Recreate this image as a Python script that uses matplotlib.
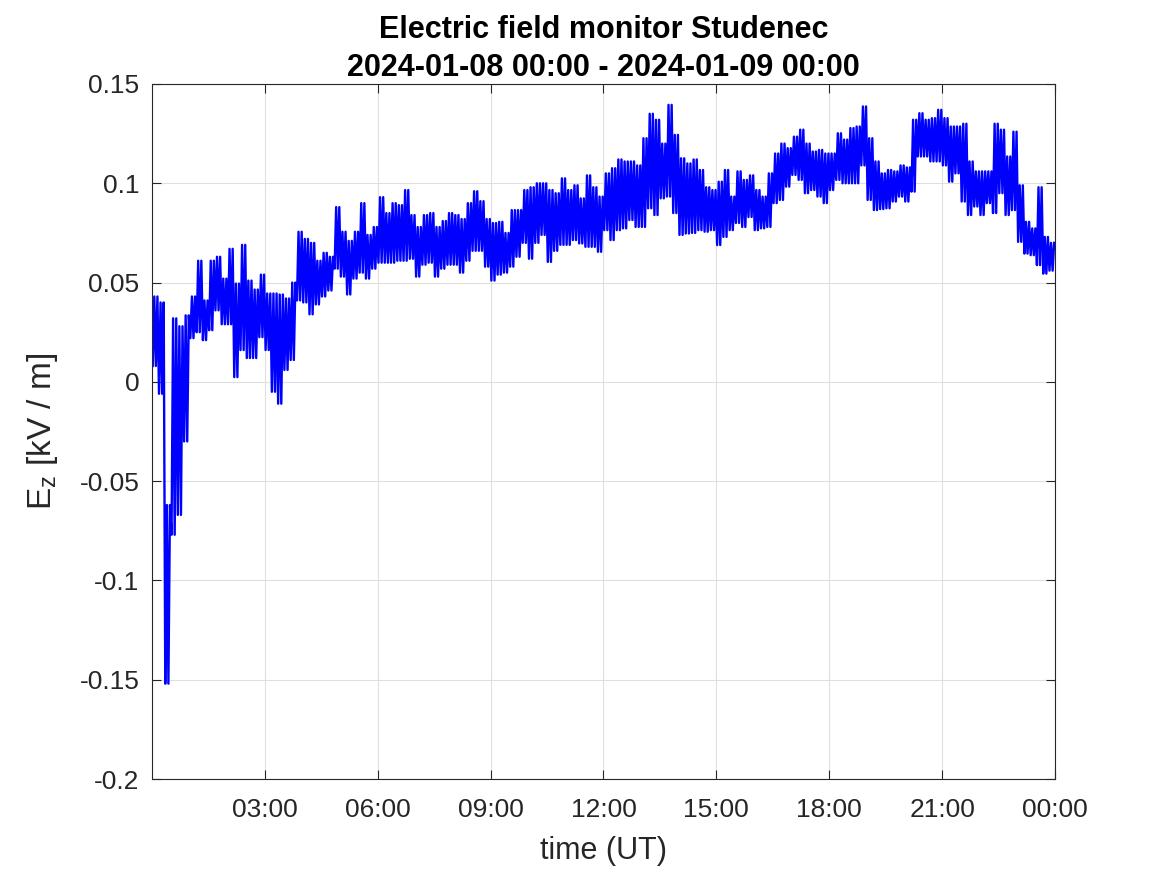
import numpy as np
import pandas as pd
import matplotlib
matplotlib.use('Agg')
import matplotlib.pyplot as plt
import matplotlib.dates as mdates

plt.rcParams['font.family'] = ['Liberation Sans', 'DejaVu Sans']

# Ez [kV/m], min and max of each 10-minute bin
ez_lo = [0.008, -0.006, -0.152, -0.077, -0.067, -0.030, 0.022, 0.025, 0.021, 0.026,
         0.036, 0.029, 0.029, 0.0024, 0.016, 0.012, 0.012, 0.0225, 0.016, -0.005,
         -0.011, 0.006, 0.011, 0.041, 0.040, 0.034, 0.039, 0.043, 0.046, 0.057,
         0.053, 0.044, 0.052, 0.055, 0.052, 0.057, 0.060, 0.060, 0.060, 0.061,
         0.061, 0.062, 0.053, 0.059, 0.060, 0.053, 0.057, 0.059, 0.059, 0.055,
         0.061, 0.066, 0.066, 0.058, 0.051, 0.054, 0.055, 0.058, 0.063, 0.070,
         0.062, 0.070, 0.074, 0.0604, 0.066, 0.069, 0.069, 0.0714, 0.0697, 0.068,
         0.068, 0.0655, 0.0764, 0.0714, 0.0764, 0.0773, 0.0815, 0.078, 0.078, 0.0874,
         0.084, 0.0924, 0.0933, 0.085, 0.074, 0.0747, 0.075, 0.0764, 0.0756, 0.0764,
         0.0689, 0.073, 0.0764, 0.080, 0.078, 0.083, 0.0764, 0.0773, 0.078, 0.090,
         0.0916, 0.0983, 0.1042, 0.1017, 0.095, 0.0966, 0.0933, 0.090, 0.0966, 0.1017,
         0.100, 0.100, 0.100, 0.109, 0.0916, 0.0865, 0.087, 0.0874, 0.0908, 0.0933,
         0.0908, 0.0958, 0.1135, 0.1135, 0.111, 0.111, 0.109, 0.1008, 0.105, 0.0908,
         0.084, 0.0883, 0.084, 0.090, 0.085, 0.095, 0.084, 0.0865, 0.0705, 0.0646,
         0.0638, 0.0588, 0.0545, 0.056]
ez_hi = [0.043, 0.040, -0.062, 0.032, 0.028, 0.0335, 0.043, 0.061, 0.041, 0.061,
         0.063, 0.052, 0.067, 0.0495, 0.069, 0.051, 0.0465, 0.054, 0.0445, 0.0445,
         0.044, 0.042, 0.050, 0.0756, 0.072, 0.070, 0.061, 0.065, 0.063, 0.088,
         0.0756, 0.071, 0.0756, 0.090, 0.074, 0.078, 0.093, 0.085, 0.090, 0.089,
         0.0966, 0.084, 0.078, 0.084, 0.085, 0.078, 0.081, 0.085, 0.084, 0.082,
         0.090, 0.096, 0.091, 0.082, 0.080, 0.0806, 0.075, 0.0865, 0.0865, 0.0966,
         0.098, 0.100, 0.100, 0.0966, 0.095, 0.1025, 0.0966, 0.099, 0.0924, 0.104,
         0.098, 0.0933, 0.105, 0.1076, 0.112, 0.111, 0.111, 0.109, 0.1227, 0.135,
         0.132, 0.120, 0.1395, 0.1244, 0.1126, 0.110, 0.112, 0.1067, 0.098, 0.0966,
         0.1008, 0.1067, 0.0933, 0.106, 0.1017, 0.104, 0.0966, 0.0933, 0.105, 0.115,
         0.120, 0.1177, 0.1235, 0.127, 0.120, 0.116, 0.1168, 0.115, 0.115, 0.1252,
         0.122, 0.1278, 0.1286, 0.1387, 0.1227, 0.111, 0.105, 0.1067, 0.106, 0.109,
         0.108, 0.132, 0.1353, 0.132, 0.1328, 0.137, 0.1328, 0.1286, 0.1286, 0.130,
         0.111, 0.106, 0.106, 0.106, 0.130, 0.127, 0.1135, 0.126, 0.099, 0.0806,
         0.0773, 0.098, 0.073, 0.070]

t0 = pd.Timestamp('2024-01-08 00:00')
t1 = pd.Timestamp('2024-01-09 00:00')
bins = pd.date_range(t0, periods=len(ez_lo), freq='10min')

# the signal swings between the bin's min and max several times per bin
t = []
ez = []
for b, lo, hi in zip(bins, ez_lo, ez_hi):
    for j, v in enumerate([lo, hi, lo, hi]):
        t.append(b + pd.Timedelta(minutes=2.5 * (j + 0.5)))
        ez.append(v)

fig = plt.figure(figsize=(11.67, 8.75), dpi=100)
ax = fig.add_axes([0.1302, 0.1097, 0.7738, 0.7943])
ax.plot(t, ez, color='#0000ff', linewidth=1.7)

ax.set_xlim(t0, t1)
ax.set_ylim(-0.2, 0.15)
xt = pd.date_range('2024-01-08 03:00', t1, freq='3h')
ax.set_xticks(xt)
ax.xaxis.set_major_formatter(mdates.DateFormatter('%H:%M'))
yt = [-0.2, -0.15, -0.1, -0.05, 0, 0.05, 0.1, 0.15]
ax.set_yticks(yt)
ax.set_yticklabels(['-0.2', '-0.15', '-0.1', '-0.05', '0', '0.05', '0.1', '0.15'])

ax.grid(True, color='#dfdfdf', linewidth=0.8)
ax.set_axisbelow(True)
ax.tick_params(direction='in', top=True, right=True, length=6.5, width=0.8,
               labelsize=19, colors='#262626')
ax.tick_params(axis='x', pad=14)
ax.tick_params(axis='y', pad=9)
for s in ax.spines.values():
    s.set_color('#262626')
    s.set_linewidth(0.8)

ax.set_xlabel('time (UT)', fontsize=22, color='#262626', labelpad=10)
ax.set_ylabel('E$_{\\mathregular{z}}$ [kV / m]', fontsize=24, color='#262626', labelpad=14)
ax.set_title('Electric field monitor Studenec\n2024-01-08 00:00 - 2024-01-09 00:00',
             fontsize=22, fontweight='bold', pad=6, linespacing=1.35)

fig.savefig('out.png', dpi=100)
